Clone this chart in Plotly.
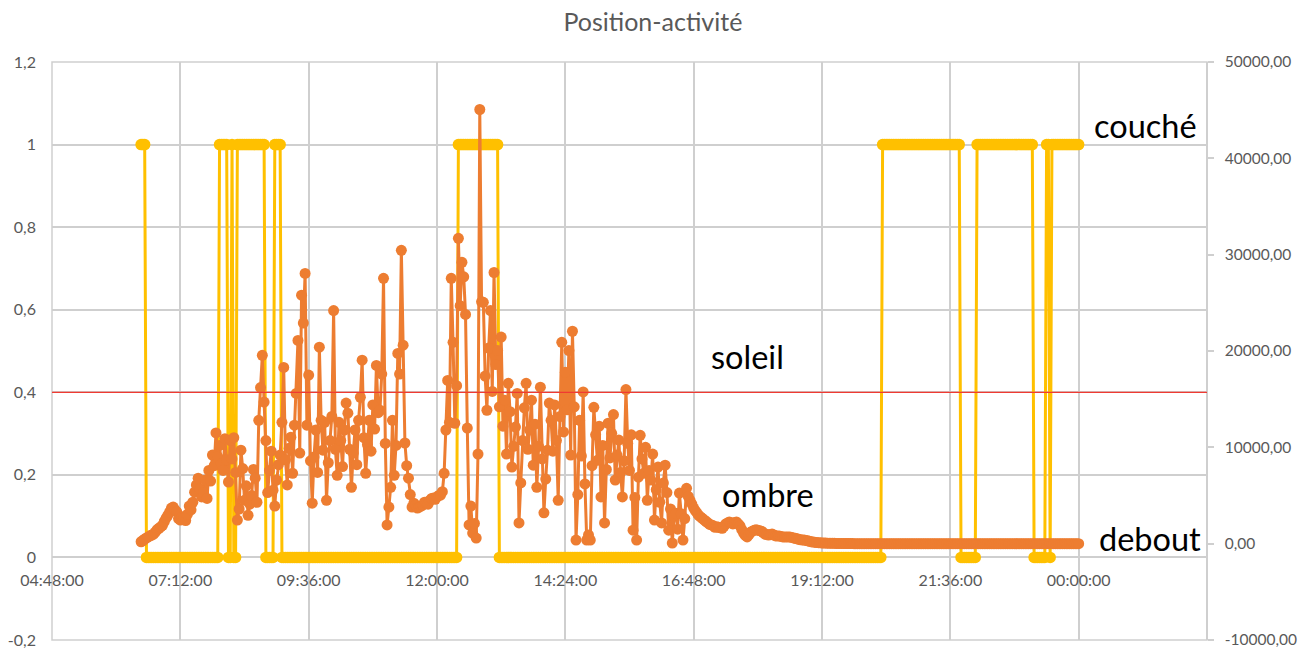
import pandas as pd
import plotly.graph_objects as go

# Sampling of the recording (one sample every 2 minutes, 06:28 -> 00:00)
start_time = "2021-03-15 06:28"
step_minutes = 2

# Position (0 = debout, 1 = couché), left axis
position = [
    1, 1, 1, 0, 0, 0, 0, 0, 0, 0, 0, 0, 0, 0, 0, 0, 0, 0, 0, 0,
    0, 0, 0, 0, 0, 0, 0, 0, 0, 0, 0, 0, 0, 0, 0, 0, 0, 0, 0, 0,
    0, 0, 0, 0, 1, 1, 1, 1, 1, 0, 0, 1, 0, 0, 1, 1, 1, 1, 1, 1,
    1, 1, 1, 1, 1, 1, 1, 1, 1, 1, 0, 0, 0, 0, 0, 1, 1, 1, 1, 0,
    0, 0, 0, 0, 0, 0, 0, 0, 0, 0, 0, 0, 0, 0, 0, 0, 0, 0, 0, 0,
    0, 0, 0, 0, 0, 0, 0, 0, 0, 0, 0, 0, 0, 0, 0, 0, 0, 0, 0, 0,
    0, 0, 0, 0, 0, 0, 0, 0, 0, 0, 0, 0, 0, 0, 0, 0, 0, 0, 0, 0,
    0, 0, 0, 0, 0, 0, 0, 0, 0, 0, 0, 0, 0, 0, 0, 0, 0, 0, 0, 0,
    0, 0, 0, 0, 0, 0, 0, 0, 0, 0, 0, 0, 0, 0, 0, 0, 0, 0, 1, 1,
    1, 1, 1, 1, 1, 1, 1, 1, 1, 1, 1, 1, 1, 1, 1, 1, 1, 1, 1, 1,
    1, 0, 0, 0, 0, 0, 0, 0, 0, 0, 0, 0, 0, 0, 0, 0, 0, 0, 0, 0,
    0, 0, 0, 0, 0, 0, 0, 0, 0, 0, 0, 0, 0, 0, 0, 0, 0, 0, 0, 0,
    0, 0, 0, 0, 0, 0, 0, 0, 0, 0, 0, 0, 0, 0, 0, 0, 0, 0, 0, 0,
    0, 0, 0, 0, 0, 0, 0, 0, 0, 0, 0, 0, 0, 0, 0, 0, 0, 0, 0, 0,
    0, 0, 0, 0, 0, 0, 0, 0, 0, 0, 0, 0, 0, 0, 0, 0, 0, 0, 0, 0,
    0, 0, 0, 0, 0, 0, 0, 0, 0, 0, 0, 0, 0, 0, 0, 0, 0, 0, 0, 0,
    0, 0, 0, 0, 0, 0, 0, 0, 0, 0, 0, 0, 0, 0, 0, 0, 0, 0, 0, 0,
    0, 0, 0, 0, 0, 0, 0, 0, 0, 0, 0, 0, 0, 0, 0, 0, 0, 0, 0, 0,
    0, 0, 0, 0, 0, 0, 0, 0, 0, 0, 0, 0, 0, 0, 0, 0, 0, 0, 0, 0,
    0, 0, 0, 0, 0, 0, 0, 0, 0, 0, 0, 0, 0, 0, 0, 0, 0, 0, 0, 0,
    0, 0, 0, 0, 0, 0, 0, 0, 0, 0, 0, 0, 0, 0, 0, 0, 1, 1, 1, 1,
    1, 1, 1, 1, 1, 1, 1, 1, 1, 1, 1, 1, 1, 1, 1, 1, 1, 1, 1, 1,
    1, 1, 1, 1, 1, 1, 1, 1, 1, 1, 1, 1, 1, 1, 1, 1, 1, 1, 1, 1,
    0, 0, 0, 0, 0, 0, 0, 0, 0, 1, 1, 1, 1, 1, 1, 1, 1, 1, 1, 1,
    1, 1, 1, 1, 1, 1, 1, 1, 1, 1, 1, 1, 1, 1, 1, 1, 1, 1, 1, 1,
    1, 0, 0, 0, 0, 0, 0, 0, 1, 1, 0, 1, 1, 1, 1, 1, 1, 1, 1, 1,
    1, 1, 1, 1, 1, 1, 1,
]

# Activity level, right axis
activite = [
    200, 330, 480, 600, 700, 820, 900, 1000, 1200, 1450, 1600, 1750, 1900, 2300, 2650, 2950, 3300, 3700, 3800, 3500,
    3300, 2600, 2450, 2800, 2650, 2400, 3050, 3900, 3500, 4300, 5350, 6100, 6800, 5700, 4850, 5300, 6600, 4700, 7600, 6500,
    9200, 8100, 11500, 9000, 10200, 8300, 7600, 10900, 8700, 6400, 10700, 8800, 11000, 7400, 2450, 3600, 9700, 7800, 4500, 6000,
    2950, 4100, 5000, 7700, 6800, 4300, 12800, 16200, 19550, 14700, 10700, 5300, 7600, 9600, 5550, 3900, 6600, 8200, 9200, 12600,
    18300, 8700, 6100, 9900, 11050, 7300, 12300, 15600, 21100, 9400, 25800, 22900, 28050, 12300, 17500, 8600, 4200, 9000, 11800, 7400,
    20400, 12800, 9700, 12600, 4500, 8400, 10700, 13200, 24200, 9800, 7100, 12600, 10700, 8000, 11800, 14600, 13550, 9800, 5850, 9400,
    11800, 8200, 12800, 15200, 19050, 11000, 7300, 10300, 12800, 9600, 14400, 11900, 18500, 13600, 13850, 17600, 27550, 10400, 1950, 3800,
    5850, 12800, 7100, 10200, 19750, 17600, 30450, 20600, 10450, 8100, 6800, 5100, 3800, 4200, 4000, 3700, 3800, 3900, 4000, 4300,
    4200, 4100, 4500, 4700, 4750, 4600, 4850, 5000, 5050, 5400, 7300, 11800, 16950, 12600, 27550, 20900, 12500, 16400, 31700, 24700,
    29200, 27700, 23800, 12000, 1950, 3900, 1100, 2100, 580, 9300, 45070, 25100, 25050, 17400, 13850, 20300, 24200, 15800, 28150, 18600,
    20050, 14200, 21450, 12200, 14900, 9300, 16650, 13700, 7950, 10100, 12100, 15600, 2150, 6300, 10700, 14100, 16650, 9800, 11800, 14900,
    8150, 12400, 5850, 10100, 16250, 8800, 3200, 6700, 9700, 14600, 12800, 9600, 14400, 10700, 4500, 13200, 20900, 11600, 17800, 13900,
    20050, 9200, 22050, 14200, 370, 5100, 12800, 9100, 15750, 6200, 370, 900, 370, 8100, 14150, 11300, 8650, 12200, 4850, 10200,
    2150, 7700, 12500, 8900, 11450, 13400, 6600, 9200, 10750, 7400, 4850, 8600, 16000, 10400, 7600, 11300, 1400, 4800, 370, 6900,
    11250, 8800, 7300, 10000, 4500, 7600, 6600, 9300, 2450, 5600, 7950, 4300, 2150, 6300, 8150, 5300, 1400, 3600, 60, 2900,
    3150, 1500, 5250, 3100, 370, 2600, 5750, 4900, 4500, 4100, 3700, 3400, 3150, 2900, 2750, 2600, 2450, 2300, 2150, 2000,
    1950, 1850, 1700, 1750, 1700, 1650, 1600, 1800, 2050, 2150, 2250, 2150, 2050, 2200, 2250, 2050, 1850, 1450, 1100, 850,
    700, 950, 1200, 1300, 1400, 1450, 1400, 1350, 1300, 1150, 1000, 950, 900, 950, 1000, 900, 800, 800, 800, 750,
    700, 700, 700, 700, 700, 650, 600, 550, 500, 450, 400, 390, 380, 340, 300, 250, 200, 170, 150, 120,
    100, 90, 80, 70, 60, 55, 50, 45, 40, 35, 30, 25, 20, 20, 20, 15, 10, 10, 10, 5,
    0, 0, 0, 0, 0, 0, 0, 0, 0, 0, 0, 0, 0, 0, 0, 0, 0, 0, 0, 0,
    0, 0, 0, 0, 0, 0, 0, 0, 0, 0, 0, 0, 0, 0, 0, 0, 0, 0, 0, 0,
    0, 0, 0, 0, 0, 0, 0, 0, 0, 0, 0, 0, 0, 0, 0, 0, 0, 0, 0, 0,
    0, 0, 0, 0, 0, 0, 0, 0, 0, 0, 0, 0, 0, 0, 0, 0, 0, 0, 0, 0,
    0, 0, 0, 0, 0, 0, 0, 0, 0, 0, 0, 0, 0, 0, 0, 0, 0, 0, 0, 0,
    0, 0, 0, 0, 0, 0, 0, 0, 0, 0, 0, 0, 0, 0, 0, 0, 0, 0, 0, 0,
    0, 0, 0, 0, 0, 0, 0,
]

x_range = ["2021-03-15 04:48", "2021-03-16 02:24"]
x_ticks = [
    "2021-03-15 04:48", "2021-03-15 07:12", "2021-03-15 09:36",
    "2021-03-15 12:00", "2021-03-15 14:24", "2021-03-15 16:48",
    "2021-03-15 19:12", "2021-03-15 21:36", "2021-03-16 00:00",
]
x_ticklabels = [
    "04:48:00", "07:12:00", "09:36:00", "12:00:00", "14:24:00",
    "16:48:00", "19:12:00", "21:36:00", "00:00:00",
]
left_ticks = [-0.2, 0, 0.2, 0.4, 0.6, 0.8, 1, 1.2]
left_ticklabels = ["-0,2", "0", "0,2", "0,4", "0,6", "0,8", "1", "1,2"]
right_ticks = [-10000, 0, 10000, 20000, 30000, 40000, 50000]
right_ticklabels = ["-10000,00", "0,00", "10000,00", "20000,00",
                    "30000,00", "40000,00", "50000,00"]
seuil_soleil = 0.4

times = pd.date_range(start_time, periods=len(activite), freq=f"{step_minutes}min")

YELLOW = "#FFC000"
ORANGE = "#ED7D31"
GRID = "#cfcfcf"
TICK_FONT = dict(family="Lato", size=16, color="#595959")
LABEL_FONT = dict(family="Lato", size=32.5, color="#000000")

fig = go.Figure()
fig.add_trace(go.Scatter(
    x=times, y=position, mode="lines+markers", yaxis="y",
    line=dict(color=YELLOW, width=3),
    marker=dict(color=YELLOW, size=11.5),
    name="position", hoverinfo="skip",
))
fig.add_trace(go.Scatter(
    x=times, y=activite, mode="lines+markers", yaxis="y2",
    line=dict(color=ORANGE, width=3),
    marker=dict(color=ORANGE, size=11),
    name="activité", hoverinfo="skip",
))

# Plot frame and the sun threshold line
fig.add_shape(type="rect", xref="paper", yref="paper", x0=0, x1=1, y0=0, y1=1,
              line=dict(color=GRID, width=1.5), layer="below")
fig.add_shape(type="line", xref="paper", yref="y", x0=0, x1=1,
              y0=seuil_soleil, y1=seuil_soleil,
              line=dict(color="#f03a32", width=1.3), layer="above")

labels = [
    ("couché", 0.993, 1.045, "right"),
    ("soleil", 0.5685, 0.486, "left"),
    ("ombre", 0.5785, 0.152, "left"),
    ("debout", 0.9965, 0.046, "right"),
]
for text, xp, yv, anchor in labels:
    fig.add_annotation(text=text, xref="paper", yref="y", x=xp, y=yv,
                       xanchor=anchor, yanchor="middle", showarrow=False,
                       font=LABEL_FONT)

fig.update_layout(
    width=1298, height=650,
    margin=dict(l=52, r=91, t=62, b=10, autoexpand=False),
    paper_bgcolor="white", plot_bgcolor="white",
    showlegend=False,
    title=dict(text="Position-activité", x=0.503, xref="container",
               y=1 - 22 / 650, yref="container", yanchor="middle",
               xanchor="center",
               font=dict(family="Lato", size=25, color="#595959")),
    xaxis=dict(
        type="date", range=x_range,
        tickmode="array", tickvals=x_ticks, ticktext=x_ticklabels,
        showgrid=True, gridcolor=GRID, gridwidth=1.5,
        zeroline=False, showline=False, ticks="",
        anchor="free", position=0.1401, automargin=False,
        tickfont=TICK_FONT, ticklabelstandoff=10,
    ),
    yaxis=dict(
        range=[-0.2, 1.2], tickmode="array",
        tickvals=left_ticks, ticktext=left_ticklabels,
        showgrid=True, gridcolor=GRID, gridwidth=1.5,
        zeroline=False, showline=False, ticks="", automargin=False,
        tickfont=TICK_FONT, ticklabelstandoff=15,
    ),
    yaxis2=dict(
        range=[-10000, 50000], tickmode="array",
        tickvals=right_ticks, ticktext=right_ticklabels,
        overlaying="y", side="right", anchor="free", position=1,
        showgrid=False, zeroline=False, automargin=False,
        showline=True, linecolor=GRID, linewidth=1.5,
        ticks="outside", ticklen=6, tickcolor=GRID, tickwidth=1.5,
        tickfont=dict(family="Lato", size=15.5, color="#595959"),
        ticklabelstandoff=8,
    ),
)

fig.write_html("out.html")
